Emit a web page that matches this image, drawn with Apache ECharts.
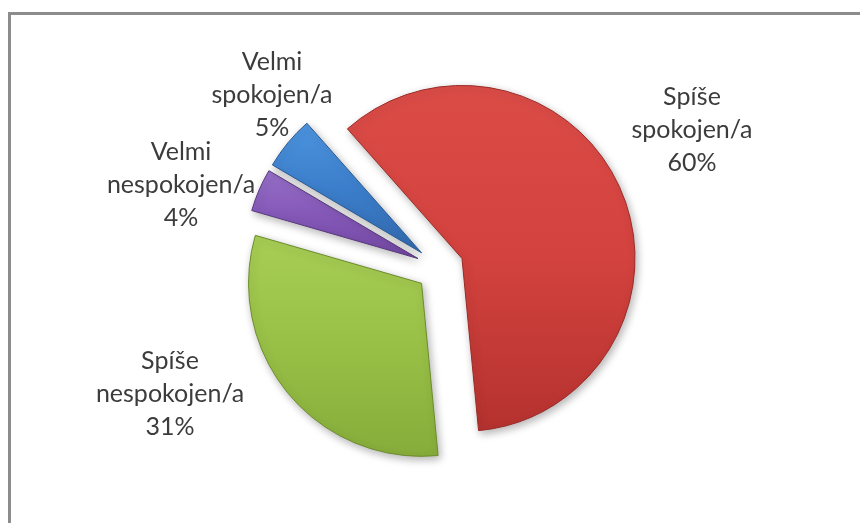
<!DOCTYPE html>
<html>
<head>
<meta charset="utf-8">
<script src="https://cdn.jsdelivr.net/npm/echarts@6/dist/echarts.min.js"></script>
<style>
  html, body { margin: 0; padding: 0; background: #ffffff; overflow: hidden; }
  #frame { position: absolute; left: 8px; top: 12px; width: 900px; height: 600px;
           border-left: 3px solid #8c8c8c; border-top: 3px solid #8c8c8c; box-sizing: border-box; }
  #chart { position: absolute; left: 0; top: 0; width: 860px; height: 523px; }
</style>
</head>
<body>
<div id="frame"></div>
<div id="chart"></div>
<script>
// ---- data ----
const categories = ['Spíše\nspokojen/a', 'Spíše\nnespokojen/a', 'Velmi\nnespokojen/a', 'Velmi\nspokojen/a'];
const values = [60, 31, 4, 5];

// ---- styling / layout (not data) ----
const sliceColors = [
  ['#DC4C47', '#D3423E', '#B5322F', '#9A2A27'],
  ['#A8CE55', '#98C046', '#86AC3A', '#6C8C2C'],
  ['#9670C8', '#8558B8', '#7248A2', '#58387E'],
  ['#4C94DE', '#3C7ECB', '#3169AE', '#2A5A94']
];
const labelPos = [[692, 130], [170, 394], [181, 185], [272, 95]];
const pieCenter = [440, 268];
const pieRadius = 173;
const pieStart = 131.5;

const chart = echarts.init(document.getElementById('chart'), null, { renderer: 'canvas' });

function styleFor(i) {
  const c = sliceColors[i];
  return {
    color: {
      type: 'linear', x: 0, y: 0, x2: 0, y2: 1,
      colorStops: [
        { offset: 0, color: c[0] },
        { offset: 0.5, color: c[1] },
        { offset: 1, color: c[2] }
      ]
    },
    borderColor: c[3],
    borderWidth: 1,
    shadowBlur: 8,
    shadowOffsetX: 2,
    shadowOffsetY: 3,
    shadowColor: 'rgba(0,0,0,0.3)'
  };
}

const sliceData = categories.map((name, i) => ({
  name: name,
  value: values[i],
  selected: true,
  itemStyle: styleFor(i),
  select: { itemStyle: styleFor(i) }
}));

const labelData = categories.map((name, i) => ({ name: name, value: values[i] }));

chart.setOption({
  animation: false,
  series: [{
    type: 'pie',
    center: pieCenter,
    radius: [0, pieRadius],
    startAngle: pieStart,
    clockwise: true,
    selectedMode: 'multiple',
    selectedOffset: 24,
    avoidLabelOverlap: false,
    emphasis: { disabled: true },
    label: { show: false },
    labelLine: { show: false },
    data: sliceData
  }, {
    type: 'pie',
    center: pieCenter,
    radius: [0, pieRadius],
    startAngle: pieStart,
    clockwise: true,
    silent: true,
    selectedMode: false,
    avoidLabelOverlap: false,
    percentPrecision: 0,
    emphasis: { disabled: true },
    itemStyle: { color: 'rgba(0,0,0,0)', borderWidth: 0 },
    label: {
      show: true,
      position: 'outside',
      formatter: p => p.name + '\n' + p.percent + '%',
      fontFamily: 'Lato',
      fontSize: 25,
      lineHeight: 33,
      color: '#3c3c3c',
      align: 'center'
    },
    labelLine: { show: false },
    labelLayout: function (params) {
      const p = labelPos[params.dataIndex];
      return { x: p[0], y: p[1], align: 'center', verticalAlign: 'middle' };
    },
    data: labelData
  }]
});
</script>
</body>
</html>
